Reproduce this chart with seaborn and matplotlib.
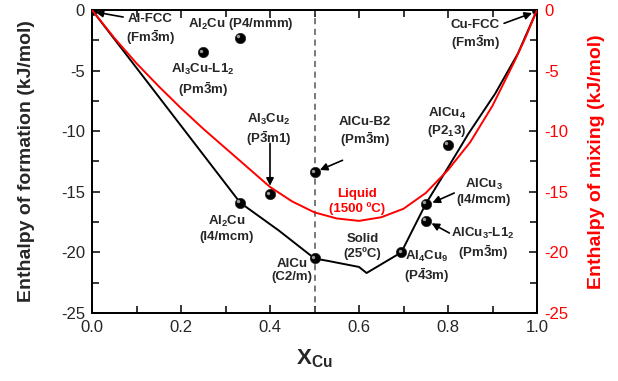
import numpy as np
import pandas as pd
import matplotlib
matplotlib.use("Agg")
import matplotlib.pyplot as plt
import matplotlib.transforms as mtransforms
import seaborn as sns

# ---------------- data ----------------
# Solid (25 C) formation-enthalpy hull line
solid_x = [0.0, 0.333, 0.42, 0.5, 0.53, 0.60, 0.617, 0.695, 0.75, 0.80, 0.846, 0.906, 0.957, 1.0]
solid_y = [0.0, -15.9, -18.2, -20.5, -20.7, -21.2, -21.7, -20.0, -16.0, -13.0, -10.2, -6.9, -3.6, 0.0]

# Liquid (1500 C) enthalpy of mixing
liquid_x = [0.0, 0.05, 0.10, 0.15, 0.20, 0.25, 0.30, 0.35, 0.40, 0.45, 0.50, 0.55,
            0.60, 0.65, 0.70, 0.75, 0.80, 0.85, 0.90, 0.95, 0.975, 1.0]
liquid_y = [0.0, -2.3, -4.4, -6.3, -8.1, -9.8, -11.4, -13.0, -14.6, -15.8, -16.7, -17.2,
            -17.4, -17.1, -16.4, -15.1, -13.2, -10.9, -7.9, -4.2, -2.2, 0.0]

# Compounds (formation enthalpy, kJ/mol)
phase_names = ["Al-FCC", "Al2Cu (P4/mmm)", "Al3Cu-L12", "Al3Cu2", "AlCu-B2", "Al2Cu (I4/mcm)",
               "AlCu (C2/m)", "Al4Cu9", "AlCu3 (I4/mcm)", "AlCu3-L12", "AlCu4", "Cu-FCC"]
phase_x = [0.0, 0.332, 0.249, 0.399, 0.5, 0.332, 0.5, 0.695, 0.75, 0.75, 0.80, 1.0]
phase_y = [0.0, -2.3, -3.5, -15.2, -13.4, -15.9, -20.5, -20.0, -16.0, -17.4, -11.1, 0.0]

x_ticks = [0.0, 0.2, 0.4, 0.6, 0.8, 1.0]
x_ticklabels = ["0.0", "0.2", "0.4", "0.6", "0.8", "1.0"]
y_ticks = [0, -5, -10, -15, -20, -25]
y_ticklabels = ["0", "-5", "-10", "-15", "-20", "-25"]

# ---------------- style ----------------
sns.set_style("ticks")
plt.rcParams["font.family"] = ["Liberation Sans", "DejaVu Sans"]
plt.rcParams["axes.unicode_minus"] = False
plt.rcParams["mathtext.fontset"] = "custom"
plt.rcParams["mathtext.rm"] = "Liberation Sans:bold"
plt.rcParams["mathtext.it"] = "Liberation Sans:bold"
plt.rcParams["mathtext.bf"] = "Liberation Sans:bold"
plt.rcParams["mathtext.default"] = "rm"

RED = "#FF0000"

fig = plt.figure(figsize=(6.18, 3.81), dpi=100)
ax = fig.add_axes([92 / 618, 1 - 313 / 381, (537 - 92) / 618, (313 - 10) / 381])
ax2 = ax.twinx()

solid_df = pd.DataFrame({"x": solid_x, "y": solid_y})
liquid_df = pd.DataFrame({"x": liquid_x, "y": liquid_y})
phase_df = pd.DataFrame({"name": phase_names, "x": phase_x, "y": phase_y})

# dashed equiatomic line
ax.axvline(0.5, color="#555555", lw=1.1, ls=(0, (4, 3)), zorder=1)

sns.lineplot(data=solid_df, x="x", y="y", ax=ax, color="black", lw=1.4,
             sort=False, estimator=None, zorder=3)
sns.lineplot(data=liquid_df, x="x", y="y", ax=ax2, color=RED, lw=1.4,
             sort=False, estimator=None, zorder=3)

sns.scatterplot(data=phase_df, x="x", y="y", ax=ax, color="black", s=55,
                edgecolor="#222222", linewidth=0.5, zorder=5, clip_on=True)
hl = mtransforms.offset_copy(ax.transData, fig=fig, x=-1.2, y=1.2, units="points")
ax.scatter(phase_df["x"], phase_df["y"], s=6, color="#9a9a9a", linewidths=0,
           transform=hl, zorder=6, clip_on=True)

for a in (ax, ax2):
    a.set_xlim(0, 1)
    a.set_ylim(-25, 0)

ax.set_xticks(x_ticks)
ax.set_xticklabels(x_ticklabels)
ax.set_yticks(y_ticks)
ax.set_yticklabels(y_ticklabels)
ax.set_xticks(np.arange(0.1, 1.0, 0.2), minor=True)
ax.set_yticks(np.arange(-22.5, 0, 5), minor=True)
ax2.set_yticks(y_ticks)
ax2.set_yticklabels(y_ticklabels)
ax2.set_yticks(np.arange(-22.5, 0, 5), minor=True)

ax.tick_params(axis="both", which="major", direction="in", length=6, width=1.1,
               labelsize=12, top=True, right=False, pad=5, color="black")
ax.tick_params(axis="both", which="minor", direction="in", length=5, width=1.1,
               top=True, right=False, color="black")
ax2.tick_params(axis="y", which="major", direction="in", length=6, width=1.1,
                labelsize=12, labelcolor=RED, color="black", pad=5)
ax2.tick_params(axis="y", which="minor", direction="in", length=5, width=1.1, color="black")

for a in (ax, ax2):
    for s in a.spines.values():
        s.set_linewidth(1.3)
        s.set_color("black")

ax.set_xlabel(r"X$_{\mathrm{Cu}}$", fontsize=16, fontweight="bold", labelpad=9)
ax.set_ylabel("Enthalpy of formation (kJ/mol)", fontsize=14, fontweight="bold", labelpad=19)
ax2.set_ylabel("Enthalpy of mixing (kJ/mol)", fontsize=14, fontweight="bold",
               color=RED, labelpad=14)

# ---------------- annotations ----------------
fs = 9.5
tk = dict(fontsize=fs, fontweight="bold", ha="center", va="center", zorder=7)
ax.text(0.131, -1.65, "Al-FCC\n(Fm$\\bar{3}$m)", **tk)
ax.text(0.334, -1.15, "Al$_2$Cu (P4/mmm)", **tk)
ax.text(0.249, -5.8, "Al$_3$Cu-L1$_2$\n(Pm$\\bar{3}$m)", **tk)
ax.text(0.397, -9.9, "Al$_3$Cu$_2$\n(P$\\bar{3}$m1)", **tk)
ax.text(0.614, -10.1, "AlCu-B2\n(Pm$\\bar{3}$m)", **tk)
ax.text(0.596, -15.8, "Liquid\n(1500 ºC)", color=RED, **tk)
ax.text(0.303, -18.0, "Al$_2$Cu\n(I4/mcm)", **tk)
ax.text(0.449, -21.5, "AlCu\n(C2/m)", **tk)
ax.text(0.608, -19.5, "Solid\n(25ºC)", **tk)
ax.text(0.753, -21.2, "Al$_4$Cu$_9$\n(P$\\bar{4}$3m)", **tk)
ax.text(0.881, -15.0, "AlCu$_3$\n(I4/mcm)", **tk)
ax.text(0.879, -19.3, "AlCu$_3$-L1$_2$\n(Pm$\\bar{3}$m)", **tk)
ax.text(0.798, -9.3, "AlCu$_4$\n(P2$_1$3)", **tk)
ax.text(0.861, -2.1, "Cu-FCC\n(Fm$\\bar{3}$m)", **tk)

ap = dict(arrowstyle="-|>", color="black", lw=1.2, mutation_scale=11, shrinkA=0, shrinkB=0)
arrows = [((0.07, -0.58), (0.008, -0.17)),
          ((0.40, -11.0), (0.40, -14.5)),
          ((0.563, -12.4), (0.512, -13.2)),
          ((0.814, -15.1), (0.765, -15.9)),
          ((0.803, -18.4), (0.763, -17.6)),
          ((0.926, -1.1), (0.989, -0.25))]
for start, end in arrows:
    ax.annotate("", xy=end, xytext=start, arrowprops=ap, zorder=7)

fig.savefig("out.png", dpi=100)
